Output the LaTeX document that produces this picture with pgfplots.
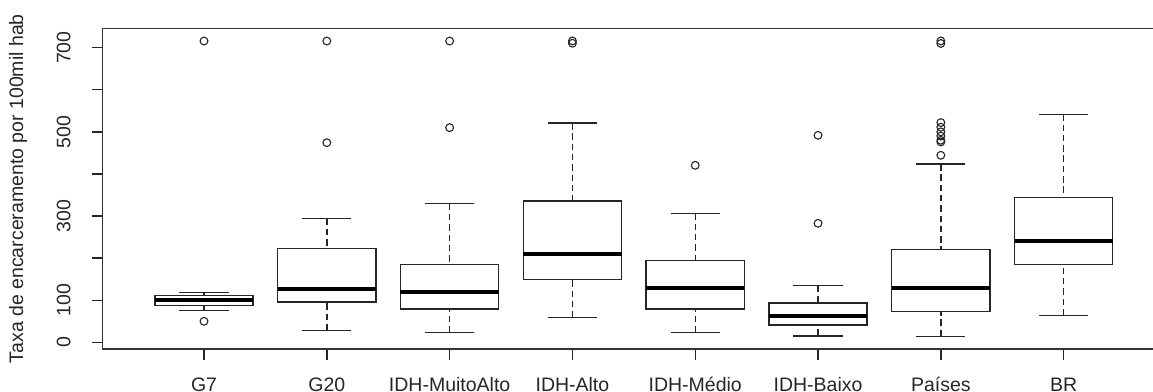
\documentclass[border=0pt]{standalone}
\usepackage{fontspec}
\setmainfont{Liberation Sans}
\usepackage{pgfplots}
\pgfplotsset{compat=1.18}
\pgfplotsset{
  boxln/.style={black!85, line width=1.4pt, mark=none, unbounded coords=jump},
}
\begin{document}
\begin{tikzpicture}
\begin{axis}[
  at={(0,0)}, anchor=south west,
  scale only axis, width=1062.2pt, height=320.7pt,
  xmin=0.175, xmax=8.825, ymin=-15.9, ymax=746,
  axis line style={black!80, line width=1.5pt},
  tick style={black!85, line width=1.4pt},
  major tick length=11pt, tick align=outside,
  xtick pos=left, ytick pos=left,
  xtick={1,2,3,4,5,6,7,8},
  xticklabels={G7,G20,IDH-MuitoAlto,IDH-Alto,IDH-Médio,IDH-Baixo,Países,BR},
  ytick={0,100,200,300,400,500,600,700},
  yticklabels={0,100,,300,,500,,700},
  /pgf/number format/assume math mode=true,
  tick label style={font=\fontsize{19.5}{23}\selectfont, text=black!85},
  xticklabel style={anchor=base, inner sep=0pt, yshift=-31.5pt},
  yticklabel style={xshift=-21pt, rotate=90, anchor=south, inner sep=0pt},
  ylabel={Taxa de encarceramento por 100mil hab},
  every axis y label/.style={at={(axis description cs:-0.07503,0.5)}, rotate=90, anchor=base, inner sep=0pt, font=\fontsize{19.5}{23}\selectfont, text=black!85},
]
% boxes (lower quartile to upper quartile, width 0.8)
\addplot[boxln, line cap=rect, line join=miter] coordinates {
  (0.6,87) (1.4,87) (1.4,111.7) (0.6,111.7) (0.6,87) (1,nan)
  (1.6,95.7) (2.4,95.7) (2.4,223.3) (1.6,223.3) (1.6,95.7) (2,nan)
  (2.6,79.1) (3.4,79.1) (3.4,185.2) (2.6,185.2) (2.6,79.1) (3,nan)
  (3.6,149.6) (4.4,149.6) (4.4,335.7) (3.6,335.7) (3.6,149.6) (4,nan)
  (4.6,79.1) (5.4,79.1) (5.4,194.8) (4.6,194.8) (4.6,79.1) (5,nan)
  (5.6,41.1) (6.4,41.1) (6.4,93.4) (5.6,93.4) (5.6,41.1) (6,nan)
  (6.6,72.7) (7.4,72.7) (7.4,220) (6.6,220) (6.6,72.7) (7,nan)
  (7.6,185.3) (8.4,185.3) (8.4,343.6) (7.6,343.6) (7.6,185.3)
};
% medians
\addplot[boxln, black, line width=4pt] coordinates {
  (0.6,100.5) (1.4,100.5) (1,nan)
  (1.6,126.6) (2.4,126.6) (2,nan)
  (2.6,120.3) (3.4,120.3) (3,nan)
  (3.6,209) (4.4,209) (4,nan)
  (4.6,129.8) (5.4,129.8) (5,nan)
  (5.6,61.7) (6.4,61.7) (6,nan)
  (6.6,129) (7.4,129) (7,nan)
  (7.6,241.4) (8.4,241.4)
};
% whiskers (dashed, from whisker end to quartile)
\addplot[boxln, dash pattern=on 6.5pt off 3.8pt] coordinates {
  (1,117.8) (1,111.7) (1,nan) (1,76) (1,87) (1,nan)
  (2,293.7) (2,223.3) (2,nan) (2,28.4) (2,95.7) (2,nan)
  (3,329.4) (3,185.2) (3,nan) (3,22.9) (3,79.1) (3,nan)
  (4,521) (4,335.7) (4,nan) (4,58.5) (4,149.6) (4,nan)
  (5,306.4) (5,194.8) (5,nan) (5,22.9) (5,79.1) (5,nan)
  (6,134.5) (6,93.4) (6,nan) (6,15) (6,41.1) (6,nan)
  (7,423.6) (7,220) (7,nan) (7,14.3) (7,72.7) (7,nan)
  (8,541.7) (8,343.6) (8,nan) (8,64.1) (8,185.3)
};
% whisker caps (width 0.4)
\addplot[boxln] coordinates {
  (0.8,117.8) (1.2,117.8) (1,nan) (0.8,76) (1.2,76) (1,nan)
  (1.8,293.7) (2.2,293.7) (2,nan) (1.8,28.4) (2.2,28.4) (2,nan)
  (2.8,329.4) (3.2,329.4) (3,nan) (2.8,22.9) (3.2,22.9) (3,nan)
  (3.8,521) (4.2,521) (4,nan) (3.8,58.5) (4.2,58.5) (4,nan)
  (4.8,306.4) (5.2,306.4) (5,nan) (4.8,22.9) (5.2,22.9) (5,nan)
  (5.8,134.5) (6.2,134.5) (6,nan) (5.8,15) (6.2,15) (6,nan)
  (6.8,423.6) (7.2,423.6) (7,nan) (6.8,14.3) (7.2,14.3) (7,nan)
  (7.8,541.7) (8.2,541.7) (8,nan) (7.8,64.1) (8.2,64.1)
};
% outliers
\addplot[only marks, mark=o, mark size=3.9pt, mark options={black!85, line width=1.1pt}] coordinates {
  (1,49.9) (1,715.8)
  (2,474.3) (2,715.8)
  (3,510) (3,715.8)
  (4,710.5) (4,716)
  (5,420.5)
  (6,282.7) (6,491.8)
  (7,444.3) (7,476) (7,480) (7,490) (7,500) (7,511) (7,522) (7,710) (7,716)
};
\end{axis}
\pgfresetboundingbox
\path[use as bounding box] (-102.7pt,-42pt) rectangle (1050.3pt,349pt);
\end{tikzpicture}
\end{document}
